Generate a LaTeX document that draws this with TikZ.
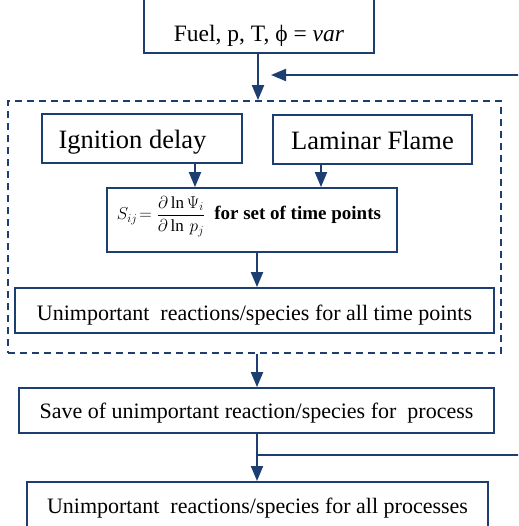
\documentclass[tikz,border=0pt]{standalone}
\usepackage{fontspec}
\setmainfont{Liberation Serif}
\usetikzlibrary{arrows.meta}
\definecolor{navy}{RGB}{28,62,112}
\begin{document}
\begin{tikzpicture}[x=1pt,y=-1pt,
  box/.style={draw=navy,line width=1.8pt,inner sep=0pt,text=black},
  arr/.style={draw=navy,line width=2pt,-{Triangle[length=15pt,width=12pt]}},
  thinline/.style={draw=navy,line width=1.5pt},
  bigfont/.style={font=\fontsize{26.5}{30}\selectfont},
  midfont/.style={font=\fontsize{22}{26}\selectfont}]
\useasboundingbox (0,0) rectangle (518,526);
\clip (0,0) rectangle (518,526);

% top box (cut off at top)
\node[box,minimum width=230pt,text height=60pt,text depth=12pt,anchor=south,
      font=\fontsize{23.5}{28}\selectfont] (fuel) at (259,54) {Fuel, p, T, ϕ = \textit{var}};

% dashed loop
\node[draw=navy,line width=1.8pt,dash pattern=on 7pt off 5pt,
      minimum width=493pt,minimum height=252pt,inner sep=0pt] (loop) at (254.5,227) {};

\node[box,bigfont,minimum width=200pt,minimum height=49pt,text height=26pt,text depth=5pt]
  (ign) at (142,138.5) {Ignition delay\kern19pt};
\node[box,bigfont,minimum width=199pt,minimum height=49pt,text height=26pt,text depth=5pt]
  (lam) at (372.5,139.5) {Laminar Flame};

\node[box,minimum width=290pt,minimum height=64pt,text height=22pt,text depth=22pt,
      font=\fontsize{19}{22}\selectfont\bfseries] (form) at (252,220)
  {{\fontsize{17}{20}\selectfont\mdseries$S_{ij}\!={\displaystyle\frac{\partial\ln\Psi_i}{\partial\ln\, p_j}}$}\hspace{9pt}for set of time points\kern6pt};

\node[box,midfont,minimum width=479pt,minimum height=45pt,text height=24pt,text depth=5pt]
  (unim1) at (254.5,310.5) {Unimportant\ \ reactions/species for all time points};

\node[box,midfont,minimum width=475pt,minimum height=45pt,text height=20pt,text depth=5pt]
  (save) at (256.5,410.5) {Save of unimportant reaction/species for\ \ process};

\node[box,midfont,minimum width=461pt,text height=32pt,text depth=40pt,anchor=north]
  (unim2) at (257.5,481) {Unimportant\ \ reactions/species for all processes};

% connectors
\coordinate (fbin) at (271,75);
\coordinate (fbtop) at (522,75);
\coordinate (fbbot) at (522,455);
\coordinate (junc) at (257,455);

\draw[arr] ([xshift=-1pt]fuel.south) -- ([xshift=-1pt]fuel.south |- loop.north);
\draw[arr] (fbtop) -- (fbin);
\draw[arr] ([xshift=53pt]ign.south) -- ([xshift=53pt]ign.south |- form.north);
\draw[arr] ([xshift=-51.5pt]lam.south) -- ([xshift=-51.5pt]lam.south |- form.north);
\draw[arr] ([xshift=5pt]form.south) -- ([xshift=5pt]form.south |- unim1.north);
\draw[arr] ([xshift=2.5pt]loop.south) -- ([xshift=2.5pt]loop.south |- save.north);
\draw[arr] ([xshift=0.5pt]save.south) -- ([xshift=0.5pt]save.south |- unim2.north);
\draw[thinline] (junc) -- (fbbot);
\end{tikzpicture}
\end{document}
